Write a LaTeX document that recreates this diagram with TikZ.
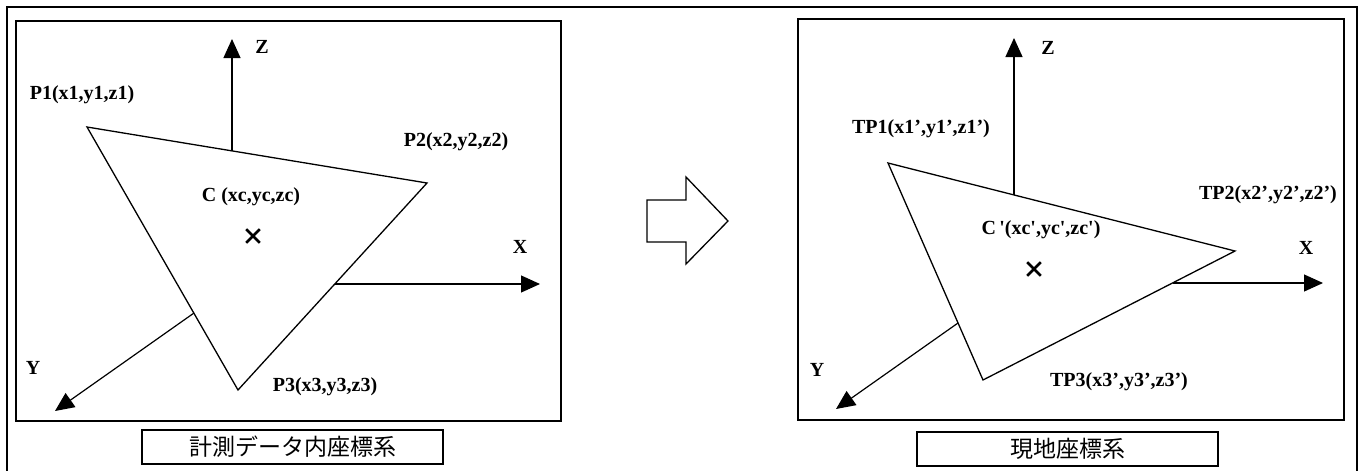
\documentclass[tikz,border=0pt]{standalone}
\usepackage{fontspec}
\setmainfont{Liberation Serif}
\newfontfamily\jpfont{Noto Sans CJK JP}
\usetikzlibrary{arrows.meta,shapes.misc,calc}
\newcommand{\lblfont}{\fontsize{20}{24}\selectfont\bfseries}
\newcommand{\capfont}{\jpfont\fontsize{23}{27}\selectfont}
\newcommand{\sq}{\textquotesingle}

\begin{document}
\begin{tikzpicture}[
  x=1pt,y=-1pt,
  every node/.style={inner sep=0pt},
  lbl/.style={font=\lblfont},
  panel/.style={draw,line width=1.8pt},
  facet/.style={draw,line width=1.3pt,line join=miter},
  axis/.style={-{Triangle[length=19pt,width=17pt]},line width=1.2pt},
  caption/.style={draw,line width=1.3pt,minimum width=301pt,
              minimum height=34pt,font=\capfont},
  centroid/.style={cross out,draw,line width=2.6pt,minimum size=11pt}
]
\useasboundingbox (0,0) rectangle (1361,471);
% Outer frame (open at the bottom edge)
\draw[line width=1.6pt] (7,471) -- (7,7) -- (1357,7) -- (1357,471);

% Panels
\draw[panel] (16,21) rectangle (561,421);
\draw[panel] (798,19) rectangle (1344,420);

% Left: measured data coordinates
\coordinate (P1) at (87,127);
\coordinate (P2) at (427,183);
\coordinate (P3) at (238,390);
\draw[facet] (P1) -- (P2) -- (P3) -- cycle;
\coordinate (zb) at (232,151);
\coordinate (zt) at (232,39);
\coordinate (xb) at (335,284);
\coordinate (xt) at (540,284);
\coordinate (yb) at (194,313);
\coordinate (yt) at (55,411);
\draw[axis] (zb) -- (zt);
\draw[axis] (xb) -- (xt);
\draw[axis] (yb) -- (yt);
\node[lbl] (zlab) at (262,47)  {Z};
\node[lbl] (xlab) at (520,247) {X};
\node[lbl] (ylab) at (33,368)  {Y};
\node[lbl] (p1lab) at (82,95)   {P1(x1,y1,z1)};
\node[lbl] (p2lab) at (456,142) {P2(x2,y2,z2)};
\node[lbl] (p3lab) at (325,387) {P3(x3,y3,z3)};
\node[lbl] (clab)  at (251,197) {C (xc,yc,zc)};
\node[centroid] (cent) at (253,236) {};
\node[caption] (capL) at (292.5,447) {計測データ内座標系};

% Transform arrow
\draw[line width=1.3pt] (647,200) -- (686,200) -- (686,177) -- (728,221)
  -- (686,264) -- (686,242) -- (647,242) -- cycle;

% Right: site coordinates
\coordinate (TP1) at (888,163);
\coordinate (TP2) at (1235,251);
\coordinate (TP3) at (983,380);
\draw[facet] (TP1) -- (TP2) -- (TP3) -- cycle;
\coordinate (zb2) at (1014,195);
\coordinate (zt2) at (1014,38);
\coordinate (xb2) at (1173,283);
\coordinate (xt2) at (1323,283);
\coordinate (yb2) at (958,323);
\coordinate (yt2) at (836,409);
\draw[axis] (zb2) -- (zt2);
\draw[axis] (xb2) -- (xt2);
\draw[axis] (yb2) -- (yt2);
\node[lbl] (zlab2) at (1048,48)  {Z};
\node[lbl] (xlab2) at (1306,248) {X};
\node[lbl] (ylab2) at (817,370)  {Y};
\node[lbl] (tp1lab) at (921,129)  {TP1(x1',y1',z1')};
\node[lbl] (tp2lab) at (1268,195) {TP2(x2',y2',z2')};
\node[lbl] (tp3lab) at (1119,382) {TP3(x3',y3',z3')};
\node[lbl] (clab2)  at (1041,230) {C\,\sq(xc\sq,yc\sq,zc\sq)};
\node[centroid] (cent2) at (1034,269) {};
\node[caption] (capR) at (1067.5,449) {現地座標系};
\end{tikzpicture}
\end{document}
